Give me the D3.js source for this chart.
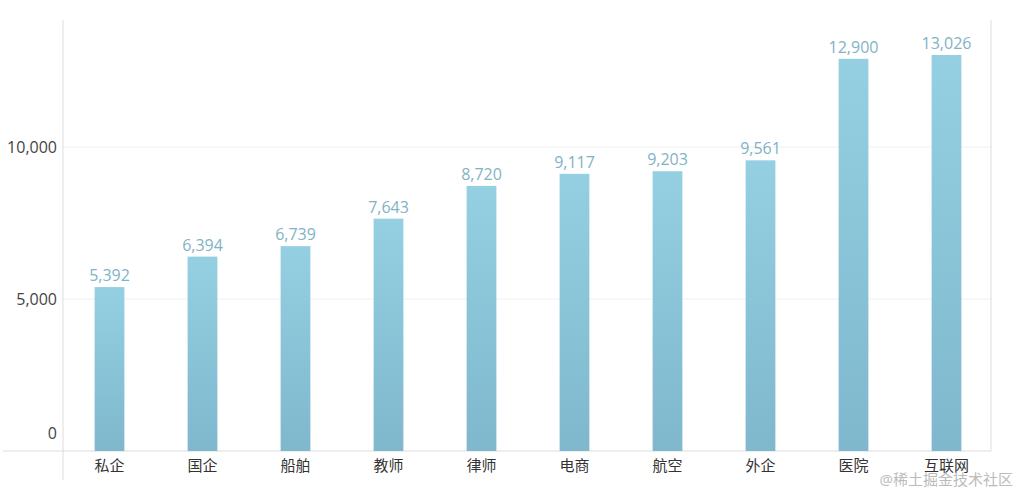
<!DOCTYPE html>
<html><head><meta charset="utf-8">
<script src="https://cdn.jsdelivr.net/npm/d3@7"></script>
<style>body{margin:0;background:#fff}text{font-family:"Open Sans","Noto Sans CJK SC",sans-serif}</style>
</head><body><div id="chart"></div>
<script>
var categories = ["私企","国企","船舶","教师","律师","电商","航空","外企","医院","互联网"];
var values = [5392,6394,6739,7643,8720,9117,9203,9561,12900,13026];
var yTicks = [0,5000,10000];

var width = 1019, height = 495;
var left = 63, right = 991, baseline = 451;

var svg = d3.select("#chart").append("svg")
    .attr("width", width).attr("height", height);

var x = d3.scaleBand().domain(categories).range([left, right + 2]).paddingInner(0.68).paddingOuter(0.34);
var y = d3.scaleLinear().domain([0, 10000]).range([baseline, 147]);

var grad = svg.append("defs").append("linearGradient")
    .attr("id", "barGrad").attr("x1", 0).attr("y1", 0).attr("x2", 0).attr("y2", 1);
grad.append("stop").attr("offset", "0%").attr("stop-color", "#94cfe2");
grad.append("stop").attr("offset", "100%").attr("stop-color", "#7fb8cc");

// grid
svg.selectAll(".grid").data(yTicks.slice(1)).enter().append("line")
    .attr("x1", left).attr("x2", right)
    .attr("y1", d => y(d)).attr("y2", d => y(d))
    .attr("stroke", "#f0f0f0");

svg.append("line").attr("x1", left).attr("x2", left).attr("y1", 20).attr("y2", 480).attr("stroke", "#ddd");
svg.append("line").attr("x1", right).attr("x2", right).attr("y1", 20).attr("y2", baseline).attr("stroke", "#ddd");
svg.append("line").attr("x1", 3).attr("x2", right).attr("y1", baseline).attr("y2", baseline).attr("stroke", "#ddd");

svg.selectAll(".ylab").data(yTicks).enter().append("text")
    .attr("x", 57).attr("y", d => d === 0 ? 433 : y(d))
    .attr("dy", "0.35em").attr("text-anchor", "end")
    .attr("font-size", 16).attr("fill", "#444")
    .text(d => d3.format(",")(d));

svg.selectAll(".bar").data(values).enter().append("rect")
    .attr("x", (d, i) => x(categories[i]))
    .attr("width", x.bandwidth())
    .attr("y", d => y(d))
    .attr("height", d => baseline - y(d))
    .attr("fill", "url(#barGrad)");

svg.selectAll(".val").data(values).enter().append("text")
    .attr("x", (d, i) => x(categories[i]) + x.bandwidth() / 2)
    .attr("y", d => y(d) - 6)
    .attr("text-anchor", "middle")
    .attr("font-size", 16).attr("fill", "#7fb3c6")
    .text(d => d3.format(",")(d));

svg.selectAll(".xlab").data(categories).enter().append("text")
    .attr("x", d => x(d) + x.bandwidth() / 2)
    .attr("y", 471)
    .attr("text-anchor", "middle")
    .attr("font-size", 15).attr("fill", "#333")
    .text(d => d);

svg.append("text").attr("x", 1013).attr("y", 485).attr("text-anchor", "end")
    .attr("font-size", 15).attr("fill", "#bbb").text("@稀土掘金技术社区");
</script></body></html>
